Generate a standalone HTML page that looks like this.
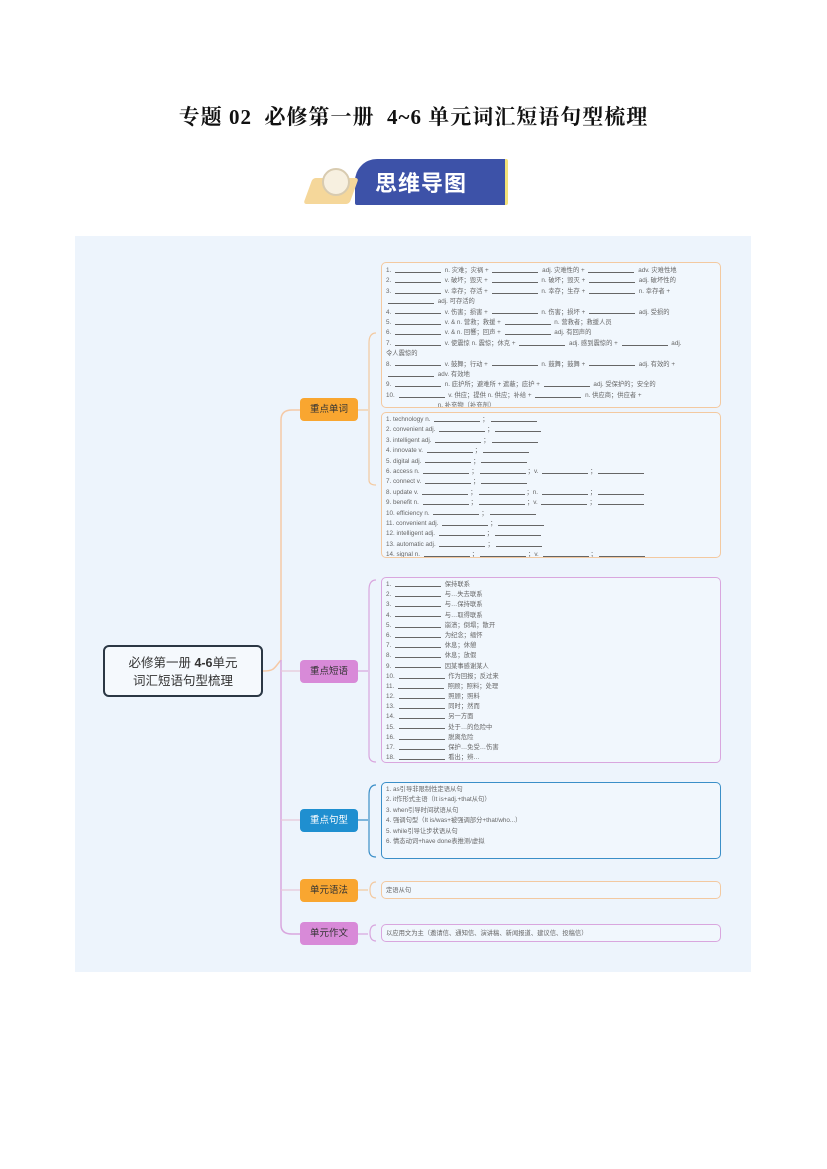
<!DOCTYPE html>
<html><head><meta charset="utf-8"><style>
body{margin:0;width:827px;height:1169px;background:#fff;position:relative;font-family:"Liberation Sans","Noto Sans CJK SC",sans-serif;overflow:hidden}
.a{position:absolute}
.title{left:0;width:827px;top:101px;text-align:center;font-family:"Liberation Serif","Noto Serif CJK SC",serif;font-weight:bold;font-size:21px;letter-spacing:1px;color:#111}
.panel{left:75px;top:236px;width:676px;height:736px;background:#edf4fc}
.node{width:58px;height:23px;border-radius:4px;font-size:9.5px;line-height:23px;text-align:center;color:#333;left:300px}
.box{left:381px;width:340px;border:1.5px solid;border-radius:5px;background:#f1f7fd;font-size:6.3px;color:#666;line-height:10.4px;padding:2px 4px;box-sizing:border-box;white-space:nowrap;overflow:hidden}
.box div{height:10.4px;line-height:10.4px}
.u{display:inline-block;width:46px;border-bottom:0.7px solid #666;height:4px;margin:0 2px;vertical-align:middle;line-height:0}
.ob{border-color:#f3c9a0}.pb{border-color:#d9a6de}.bb{border-color:#3b8fc8}
.p3 div{height:10.2px;line-height:10.2px}
</style></head><body>
<div class="a title">专题 02&nbsp; 必修第一册&nbsp; 4~6 单元词汇短语句型梳理</div>
<div class="a" style="left:355px;top:159px;width:150px;height:46px;background:#3d52a8;border-radius:22px 2px 2px 2px;border-right:3px solid #f3e27a"></div>
<div class="a" style="left:375px;top:166px;color:#fff;font-size:22px;font-weight:bold;letter-spacing:1px;font-family:'Noto Sans CJK SC',sans-serif">思维导图</div>
<div class="a" style="left:308px;top:178px;width:46px;height:26px;background:#f5d79a;transform:skewX(-20deg);border-radius:3px"></div>
<div class="a" style="left:322px;top:168px;width:24px;height:24px;border-radius:50%;background:#f7f0e0;border:2px solid #d8cbb0"></div>

<div class="a panel"></div>
<svg class="a" style="left:0;top:0" width="827" height="1169">
<path d="M263 671 C275 671 274 668 281 660 L281 420 Q281 410 292 410 L300 410" fill="none" stroke="#f5c9a6" stroke-width="1.5"/>
<path d="M281 660 L281 925 Q281 934 292 934 L300 934" fill="none" stroke="#d9a6de" stroke-width="1.5"/>
<path d="M281 671 L300 671 M281 820 L300 820 M281 890 L300 890" fill="none" stroke="#e7c7d8" stroke-width="1.2"/>
<path d="M358 410 L368 410 M376 333 Q369 333 369 343 L369 480 Q369 485 376 485" fill="none" stroke="#f3c9a0" stroke-width="1.2"/>
<path d="M358 671 L368 671 M376 580 Q369 580 369 590 L369 755 Q369 762 376 762" fill="none" stroke="#d9a6de" stroke-width="1.2"/>
<path d="M358 820 L368 820 M376 785 Q369 785 369 795 L369 850 Q369 857 376 857" fill="none" stroke="#3b8fc8" stroke-width="1.2"/>
<path d="M358 890 L368 890 M376 882 Q370 882 370 890 Q370 898 376 898" fill="none" stroke="#f3c9a0" stroke-width="1.2"/>
<path d="M358 934 L368 934 M376 925 Q370 925 370 933 Q370 941 376 941" fill="none" stroke="#d9a6de" stroke-width="1.2"/>
</svg>
<div class="a" style="left:103px;top:645px;width:160px;height:52px;border:2px solid #2b3744;border-radius:6px;box-sizing:border-box;background:#f5f9fd;text-align:center;font-size:12.5px;line-height:18px;padding-top:7px;color:#333">必修第一册 <b>4-6</b>单元<br>词汇短语句型梳理</div>
<div class="a node" style="top:398px;background:#f9a630">重点单词</div>
<div class="a node" style="top:660px;background:#d88ad8">重点短语</div>
<div class="a node" style="top:809px;background:#1f8fd0;color:#fff">重点句型</div>
<div class="a node" style="top:879px;background:#f9a630">单元语法</div>
<div class="a node" style="top:922px;background:#d88ad8">单元作文</div>

<div class="a box ob" style="top:262px;height:146px;padding-top:3px">
<div>1. <span class="u"></span> n. 灾难；灾祸 + <span class="u"></span> adj. 灾难性的 + <span class="u"></span> adv. 灾难性地</div>
<div>2. <span class="u"></span> v. 破坏；毁灭 + <span class="u"></span> n. 破坏；毁灭 + <span class="u"></span> adj. 破坏性的</div>
<div>3. <span class="u"></span> v. 幸存；存活 + <span class="u"></span> n. 幸存；生存 + <span class="u"></span> n. 幸存者 +</div>
<div><span class="u"></span> adj. 可存活的</div>
<div>4. <span class="u"></span> v. 伤害；损害 + <span class="u"></span> n. 伤害；损坏 + <span class="u"></span> adj. 受损的</div>
<div>5. <span class="u"></span> v. &amp; n. 营救；救援 + <span class="u"></span> n. 营救者；救援人员</div>
<div>6. <span class="u"></span> v. &amp; n. 回響；回声 + <span class="u"></span> adj. 有回声的</div>
<div>7. <span class="u"></span> v. 使震惊 n. 震惊；休克 + <span class="u"></span> adj. 感到震惊的 + <span class="u"></span> adj.</div>
<div>令人震惊的</div>
<div>8. <span class="u"></span> v. 鼓舞；行动 + <span class="u"></span> n. 鼓舞；鼓舞 + <span class="u"></span> adj. 有效的 +</div>
<div><span class="u"></span> adv. 有效地</div>
<div>9. <span class="u"></span> n. 庇护所；避难所 + 遮蔽；庇护 + <span class="u"></span> adj. 受保护的；安全的</div>
<div>10. <span class="u"></span> v. 供应；提供 n. 供应；补给 + <span class="u"></span> n. 供应商；供应者 +</div>
<div><span class="u"></span> n. 补充物（补充剂）</div>
</div>
<div class="a box ob" style="top:412px;height:146px">
<div>1. technology n. <span class="u"></span>；<span class="u"></span></div>
<div>2. convenient adj. <span class="u"></span>；<span class="u"></span></div>
<div>3. intelligent adj. <span class="u"></span>；<span class="u"></span></div>
<div>4. innovate v. <span class="u"></span>；<span class="u"></span></div>
<div>5. digital adj. <span class="u"></span>；<span class="u"></span></div>
<div>6. access n. <span class="u"></span>；<span class="u"></span>；v. <span class="u"></span>；<span class="u"></span></div>
<div>7. connect v. <span class="u"></span>；<span class="u"></span></div>
<div>8. update v. <span class="u"></span>；<span class="u"></span>；n. <span class="u"></span>；<span class="u"></span></div>
<div>9. benefit n. <span class="u"></span>；<span class="u"></span>；v. <span class="u"></span>；<span class="u"></span></div>
<div>10. efficiency n. <span class="u"></span>；<span class="u"></span></div>
<div>11. convenient adj. <span class="u"></span>；<span class="u"></span></div>
<div>12. intelligent adj. <span class="u"></span>；<span class="u"></span></div>
<div>13. automatic adj. <span class="u"></span>；<span class="u"></span></div>
<div>14. signal n. <span class="u"></span>；<span class="u"></span>；v. <span class="u"></span>；<span class="u"></span></div>
</div>
<div class="a box pb p3" style="top:577px;height:186px">
<div>1. <span class="u"></span> 保持联系</div><div>2. <span class="u"></span> 与…失去联系</div><div>3. <span class="u"></span> 与…保持联系</div><div>4. <span class="u"></span> 与…取得联系</div><div>5. <span class="u"></span> 崩溃；倒塌；散开</div><div>6. <span class="u"></span> 为纪念；缅怀</div><div>7. <span class="u"></span> 休息；休憩</div><div>8. <span class="u"></span> 休息；放假</div><div>9. <span class="u"></span> 因某事感谢某人</div><div>10. <span class="u"></span> 作为回报；反过来</div><div>11. <span class="u"></span> 照顾；照料；处理</div><div>12. <span class="u"></span> 照顾；照料</div><div>13. <span class="u"></span> 同时；然而</div><div>14. <span class="u"></span> 另一方面</div><div>15. <span class="u"></span> 处于…的危险中</div><div>16. <span class="u"></span> 脱离危险</div><div>17. <span class="u"></span> 保护…免受…伤害</div><div>18. <span class="u"></span> 看出；辨…</div>
</div>
<div class="a box bb" style="top:782px;height:77px">
<div>1. as引导非限制性定语从句</div><div>2. it作形式主语（It is+adj.+that从句）</div><div>3. when引导时间状语从句</div><div>4. 强调句型（It is/was+被强调部分+that/who...）</div><div>5. while引导让步状语从句</div><div>6. 情态动词+have done表推测/虚拟</div>
</div>
<div class="a box ob" style="top:881px;height:18px;line-height:13px">定语从句</div>
<div class="a box pb" style="top:924px;height:18px;line-height:13px">以应用文为主（邀请信、通知信、演讲稿、新闻报道、建议信、投稿信）</div>
</body></html>
